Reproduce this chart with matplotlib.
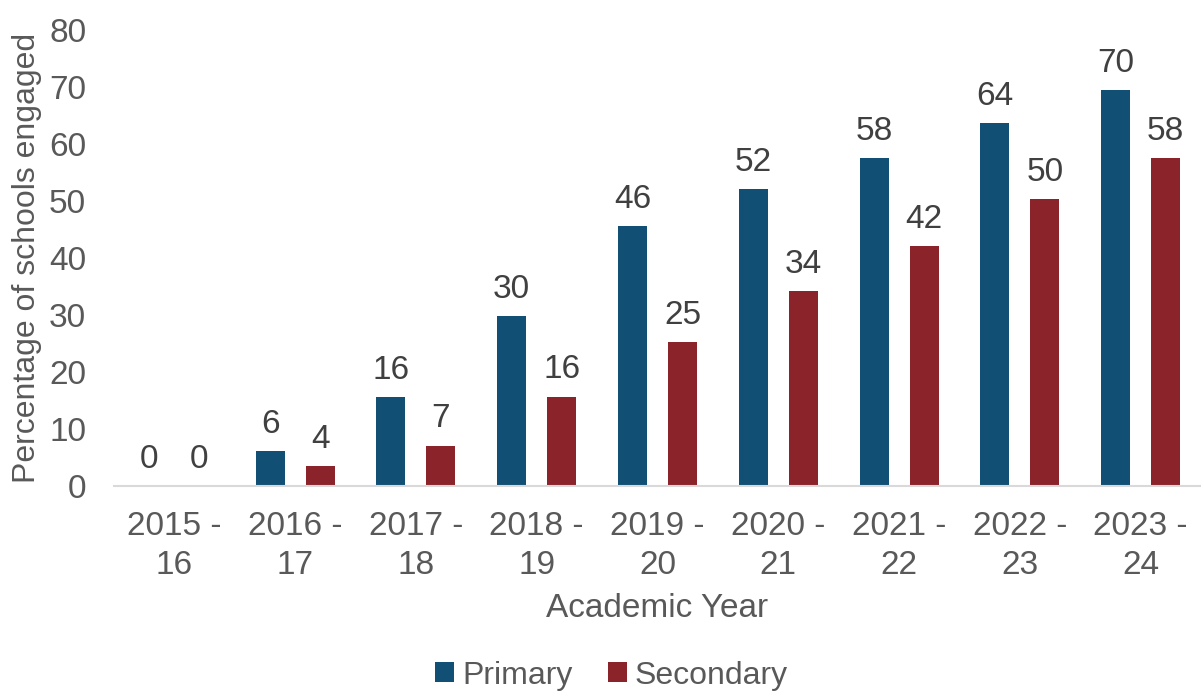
import matplotlib
matplotlib.use("Agg")
import matplotlib.pyplot as plt
import numpy as np

categories = ["2015 -\n16", "2016 -\n17", "2017 -\n18", "2018 -\n19", "2019 -\n20",
              "2020 -\n21", "2021 -\n22", "2022 -\n23", "2023 -\n24"]
primary = [0, 6.2, 15.6, 29.8, 45.6, 52.1, 57.5, 63.7, 69.5]
secondary = [0, 3.5, 7.1, 15.7, 25.2, 34.2, 42.1, 50.3, 57.6]
yticks = [0, 10, 20, 30, 40, 50, 60, 70, 80]

c_primary = "#114F75"
c_secondary = "#8B232A"
tick_color = "#595959"
label_color = "#404040"
FS = 24

plt.rcParams['font.family'] = ['Liberation Sans', 'DejaVu Sans']

fig = plt.figure(figsize=(12.01, 6.97), dpi=100)
ax = fig.add_axes([0.0949, 0.3027, 0.9051, 0.957 - 0.3027])

x = np.arange(len(categories))
w = 0.24
off = 0.207
b1 = ax.bar(x - off, primary, w, color=c_primary, label="Primary")
b2 = ax.bar(x + off, secondary, w, color=c_secondary, label="Secondary")

for bars, vals in ((b1, primary), (b2, secondary)):
    for rect, v in zip(bars, vals):
        ax.annotate(f"{v:.0f}", (rect.get_x() + rect.get_width() / 2, rect.get_height()),
                    xytext=(0, 8), textcoords="offset points", ha="center", va="bottom",
                    fontsize=FS, color=label_color)

ax.set_xlim(-0.5, len(categories) - 0.5)
ax.set_ylim(0, 80)
ax.set_yticks(yticks)
ax.set_xticks(x)
ax.set_xticklabels(categories, fontsize=FS, color=tick_color, linespacing=1.32)
ax.tick_params(axis='y', labelsize=FS, labelcolor=tick_color, length=0, pad=20)
ax.tick_params(axis='x', length=0, pad=18)

for s in ("top", "right", "left"):
    ax.spines[s].set_visible(False)
ax.spines["bottom"].set_color("#D9D9D9")
ax.spines["bottom"].set_linewidth(1.5)

ax.set_ylabel("Percentage of schools engaged", fontsize=23, color=tick_color, labelpad=5)
ax.set_xlabel("Academic Year", fontsize=FS, color=tick_color, labelpad=9)

fig.legend(handles=[b1, b2], loc="lower center", bbox_to_anchor=(0.509, -0.032), ncol=2,
           frameon=False, fontsize=23, handlelength=0.6, handleheight=0.6,
           handletextpad=0.25, columnspacing=1.1, labelcolor=tick_color)

fig.savefig("out.png", dpi=100)
